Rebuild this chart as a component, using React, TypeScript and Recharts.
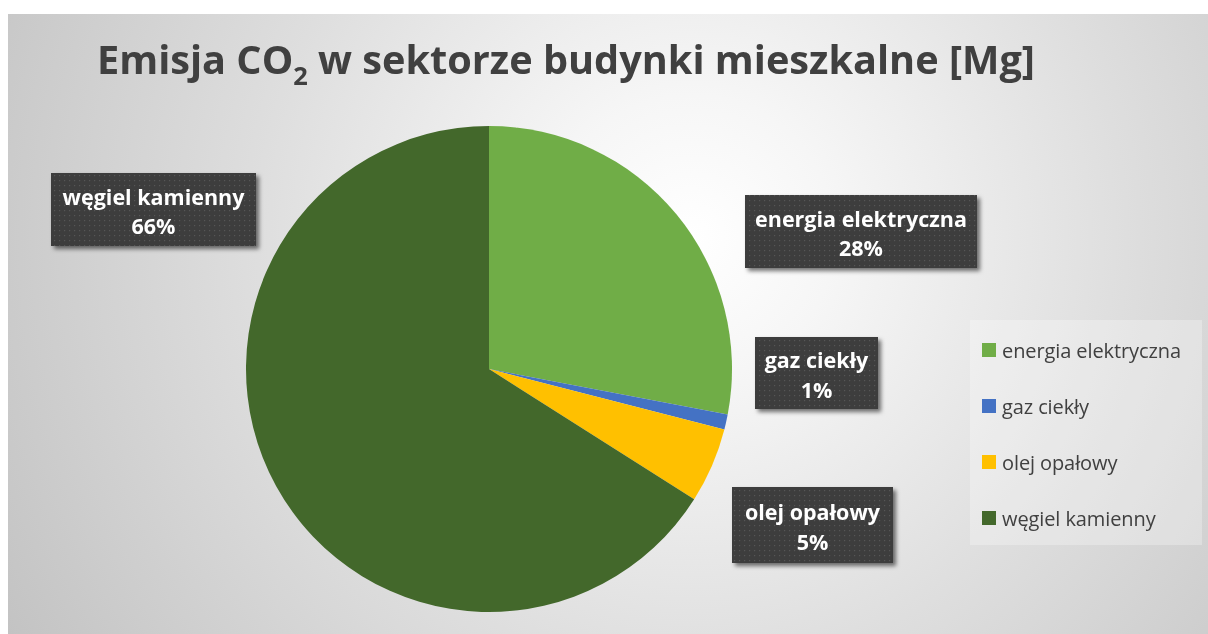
import React from 'react';
import { PieChart, Pie, Cell, Legend } from 'recharts';

// ---- data ----
const categories = ['energia elektryczna', 'gaz ciekły', 'olej opałowy', 'węgiel kamienny'];
const values = [28, 1, 5, 66];
const title = 'Emisja CO';
const titleSub = '2';
const titleRest = ' w sektorze budynki mieszkalne [Mg]';

// ---- styles / layout ----
const COLORS = ['#70AD47', '#4472C4', '#FFC000', '#43682B'];
// label box centre offsets relative to pie centre, and box sizes
const LABEL_LAYOUT = [
  { dx: 372, dy: -137.5, w: 232, h: 73 },
  { dx: 327.5, dy: 4, w: 123, h: 72 },
  { dx: 323.5, dy: 156, w: 161, h: 76 },
  { dx: -335.5, dy: -159.5, w: 205, h: 73 },
];

const W = 1200;
const H = 620;
const PIE_CX = 481;
const PIE_CY = 355;
const PIE_R = 243;
const FONT = "'Open Sans', Lato, sans-serif";

const total = values.reduce((a, b) => a + b, 0);
const tableData = categories.map((name, i) => ({ name, value: values[i] }));

const renderLabel = (props: any) => {
  const { index, name, value } = props;
  const cx = props.cx ?? PIE_CX;
  const cy = props.cy ?? PIE_CY;
  const L = LABEL_LAYOUT[index];
  const mx = cx + L.dx;
  const my = cy + L.dy;
  const pct = Math.round((value / total) * 100) + '%';
  return (
    <g key={'lbl' + index}>
      <rect
        x={mx - L.w / 2}
        y={my - L.h / 2}
        width={L.w}
        height={L.h}
        fill="url(#dotPattern)"
        filter="url(#lblShadow)"
      />
      <text x={mx} y={my - 5} textAnchor="middle" fill="#ffffff" fontFamily={FONT} fontWeight={700} fontSize={21.5}>
        {name}
      </text>
      <text x={mx} y={my + 24.5} textAnchor="middle" fill="#ffffff" fontFamily={FONT} fontWeight={700} fontSize={21.5}>
        {pct}
      </text>
    </g>
  );
};

const renderLegend = (props: any) => {
  const payload = props.payload || [];
  return (
    <div
      style={{
        width: 232,
        height: 225,
        background: 'rgba(255,255,255,0.28)',
        boxSizing: 'border-box',
        paddingTop: 2,
      }}
    >
      {payload.map((p: any, i: number) => (
        <div
          key={'leg' + i}
          style={{ height: 56, display: 'flex', alignItems: 'center', paddingLeft: 12 }}
        >
          <div style={{ width: 14, height: 14, background: COLORS[i], marginRight: 6, flexShrink: 0 }} />
          <span style={{ fontFamily: FONT, fontSize: 20, color: '#404040', whiteSpace: 'nowrap', letterSpacing: -0.1 }}>
            {p.value}
          </span>
        </div>
      ))}
    </div>
  );
};

export default function App() {
  React.useLayoutEffect(() => {
    document.documentElement.style.overflow = 'hidden';
    document.body.style.overflow = 'hidden';
  }, []);
  return (
    <div
      style={{
        position: 'fixed',
        left: 8,
        top: 14,
        right: 0,
        bottom: 0,
        background:
          'radial-gradient(circle at 57% 36%, #ffffff 0%, #f6f6f6 18%, #dedede 55%, #c3c3c3 100%)',
        overflow: 'hidden',
      }}
    >
      <svg width={0} height={0} style={{ position: 'absolute' }}>
        <defs>
          <pattern id="dotPattern" x={0} y={0} width={5} height={5} patternUnits="userSpaceOnUse">
            <rect x={0} y={0} width={5} height={5} fill="#3d3d3d" />
            <rect x={1} y={1} width={1.2} height={1.2} fill="#575757" />
          </pattern>
          <filter id="lblShadow" x="-20%" y="-30%" width="140%" height="170%">
            <feDropShadow dx={3} dy={3} stdDeviation={2.2} floodColor="#000000" floodOpacity={0.55} />
          </filter>
        </defs>
      </svg>

      <svg width={W} height={110} style={{ position: 'absolute', left: 0, top: 0 }}>
        <text
          x={89}
          y={60}
          textLength={938}
          lengthAdjust="spacingAndGlyphs"
          fill="#404040"
          fontFamily={FONT}
          fontWeight={700}
          fontSize={39}
        >
          {title}
          <tspan fontSize={25} dy={11}>
            {titleSub}
          </tspan>
          <tspan dy={-11}>{titleRest}</tspan>
        </text>
      </svg>

      <div style={{ position: 'absolute', left: 0, top: 0 }}>
        <PieChart width={W} height={H} margin={{ top: 0, right: 0, bottom: 0, left: 0 }}>
          <Pie
            data={tableData}
            dataKey="value"
            nameKey="name"
            cx={PIE_CX}
            cy={PIE_CY}
            outerRadius={PIE_R}
            startAngle={90}
            endAngle={-270}
            stroke="none"
            isAnimationActive={false}
            label={renderLabel}
            labelLine={false}
          >
            {tableData.map((d, i) => (
              <Cell key={'c' + i} fill={COLORS[i]} />
            ))}
          </Pie>
          <Legend
            layout="vertical"
            align="right"
            verticalAlign="middle"
            content={renderLegend}
            wrapperStyle={{ position: 'absolute', left: 962, top: 306, width: 232, height: 225 }}
          />
        </PieChart>
      </div>
    </div>
  );
}
